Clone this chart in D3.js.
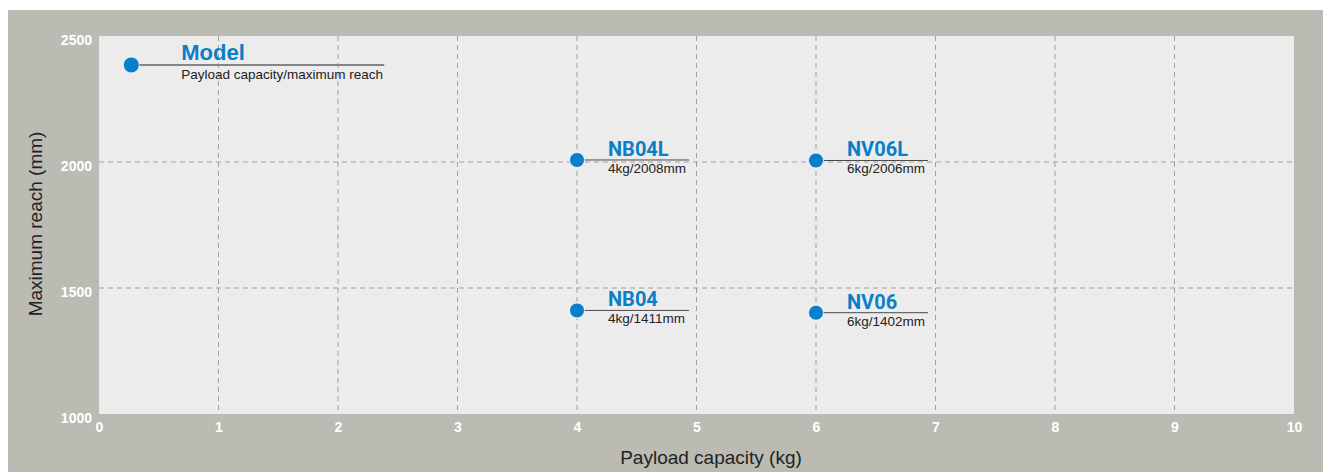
<!DOCTYPE html>
<html><head><meta charset="utf-8">
<script src="https://cdn.jsdelivr.net/npm/d3@7"></script>
<style>html,body{margin:0;padding:0;background:#fff;}svg{display:block;}</style>
</head><body>
<svg id="c" width="1323" height="472"></svg>
<script>
const models = ["NB04L", "NV06L", "NB04", "NV06"];
const payloads = [4, 6, 4, 6];
const reaches = [2008, 2006, 1411, 1402];
const xTicks = [0,1,2,3,4,5,6,7,8,9,10];
const yTicks = [1000,1500,2000,2500];
const legendTitle = "Model";
const legendSub = "Payload capacity/maximum reach";
const legendPoint = [0.27, 2385];

const svg = d3.select("#c");
const W = 1323, H = 472;
const m = {l: 99, r: 1294, t: 36, b: 414};
svg.append("rect").attr("x", 8).attr("y", 10).attr("width", W-8).attr("height", H-10).attr("fill", "#bbbbb3");
svg.append("rect").attr("x", m.l).attr("y", m.t).attr("width", m.r-m.l).attr("height", m.b-m.t).attr("fill", "#ececec");

const x = d3.scaleLinear().domain([0,10]).range([m.l, m.r]);
const y = d3.scaleLinear().domain([1000,2500]).range([m.b, m.t]);
const font = "'Liberation Sans', Arial, Helvetica, sans-serif";

// grid
const g = svg.append("g");
g.selectAll("line.v").data(xTicks.filter(d=>d>0&&d<10)).join("line")
  .attr("x1", d=>x(d)).attr("x2", d=>x(d)).attr("y1", m.t).attr("y2", m.b)
  .attr("stroke", "#a0a0a0").attr("stroke-width", 1).attr("stroke-dasharray", "5,4");
g.selectAll("line.h").data(yTicks.filter(d=>d>1000&&d<2500)).join("line")
  .attr("x1", m.l).attr("x2", m.r).attr("y1", d=>y(d)).attr("y2", d=>y(d))
  .attr("stroke", "#a0a0a0").attr("stroke-width", 1).attr("stroke-dasharray", "5,4");

// axes (text only)
const xAxis = d3.axisBottom(x).tickValues(xTicks).tickFormat(d3.format("d")).tickSize(0).tickPadding(8);
const xa = svg.append("g").attr("transform", `translate(0,${m.b})`).call(xAxis);
xa.select(".domain").remove();
xa.selectAll("text").attr("fill", "#fff").attr("font-family", font).attr("font-weight", "bold").attr("font-size", 14);
const yAxis = d3.axisLeft(y).tickValues(yTicks).tickFormat(d3.format("d")).tickSize(0).tickPadding(7);
const ya = svg.append("g").attr("transform", `translate(${m.l},0)`).call(yAxis);
ya.select(".domain").remove();
ya.selectAll("text").attr("fill", "#fff").attr("font-family", font).attr("font-weight", "bold").attr("font-size", 14).attr("dy", "0.58em");

svg.append("text").attr("x", 711).attr("y", 464).attr("text-anchor", "middle")
  .attr("font-family", font).attr("font-size", 19).attr("fill", "#222").text("Payload capacity (kg)");
svg.append("text").attr("transform", `translate(42,224) rotate(-90)`).attr("text-anchor", "middle")
  .attr("font-family", font).attr("font-size", 19).attr("fill", "#222").text("Maximum reach (mm)");

const blue = "#0a7fc9";
// legend
const lx = x(legendPoint[0]), ly = y(legendPoint[1]);
svg.append("line").attr("x1", lx).attr("x2", lx+253).attr("y1", ly).attr("y2", ly).attr("stroke", "#858585").attr("stroke-width", 2);
svg.append("circle").attr("cx", lx).attr("cy", ly).attr("r", 8).attr("fill", blue).attr("stroke", "#fff").attr("stroke-width", 0.8);
svg.append("text").attr("x", lx+50).attr("y", ly-5).attr("font-family", font).attr("font-weight", "bold").attr("font-size", 22).attr("fill", blue).text(legendTitle);
svg.append("text").attr("x", lx+50).attr("y", ly+14).attr("font-family", font).attr("font-size", 13.5).attr("fill", "#222").text(legendSub);

// points
const pts = svg.append("g").selectAll("g").data(models.map((d,i)=>({name:d,p:payloads[i],r:reaches[i]}))).join("g")
  .attr("transform", d=>`translate(${x(d.p)},${y(d.r)})`);
pts.append("line").attr("x1", 0).attr("x2", 112).attr("y1", 0).attr("y2", 0).attr("stroke", "#4a4a4a").attr("stroke-width", 1);
pts.append("circle").attr("r", 7.5).attr("fill", blue).attr("stroke", "#fff").attr("stroke-width", 0.8);
pts.append("text").attr("x", 31).attr("y", -4).attr("font-family", "Roboto, sans-serif").attr("font-weight", 700).attr("font-size", 20).attr("fill", blue).text(d=>d.name);
pts.append("text").attr("x", 31).attr("y", 13).attr("font-family", font).attr("font-size", 13.5).attr("fill", "#222").text(d=>`${d.p}kg/${d.r}mm`);
</script>
</body></html>
